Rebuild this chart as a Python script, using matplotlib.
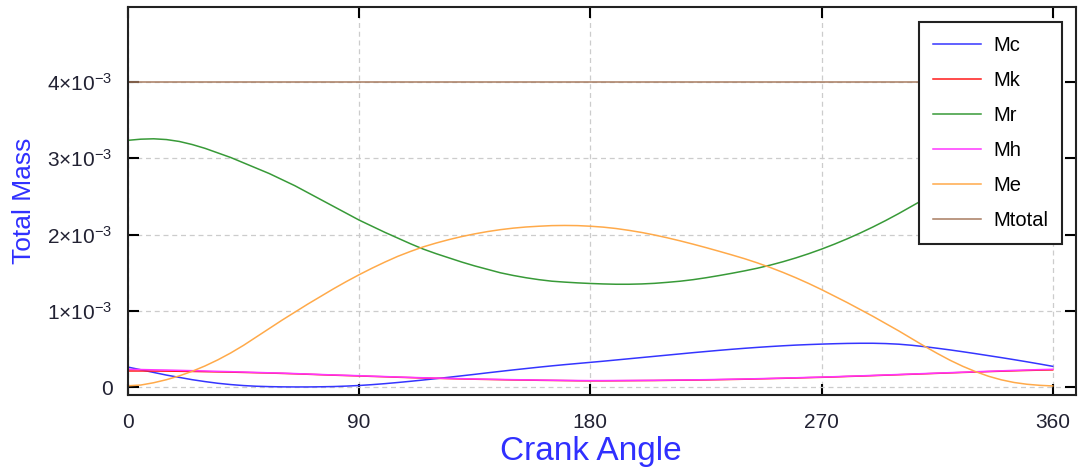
import numpy as np
import matplotlib
matplotlib.use("Agg")
from matplotlib import pyplot as plt
from matplotlib.ticker import FuncFormatter

plt.rcParams['font.family'] = ['Liberation Sans', 'DejaVu Sans']
plt.rcParams['mathtext.fontset'] = 'custom'
plt.rcParams['mathtext.rm'] = 'Liberation Sans'
plt.rcParams['mathtext.it'] = 'Liberation Sans:italic'

#crank angle, every 5 deg
angle = list(range(0, 361, 5))

# masses in 1e-3 units
Mc = [0.265, 0.23, 0.195, 0.16, 0.13, 0.10, 0.075, 0.053, 0.036, 0.023,
      0.014, 0.009, 0.006, 0.005, 0.005, 0.007, 0.01, 0.016, 0.024, 0.035,
      0.048, 0.063, 0.079, 0.096, 0.114, 0.132, 0.151, 0.17, 0.19, 0.209,
      0.228, 0.246, 0.264, 0.281, 0.297, 0.312, 0.327, 0.342, 0.358, 0.374,
      0.39, 0.406, 0.422, 0.438, 0.454, 0.469, 0.484, 0.498, 0.511, 0.523,
      0.534, 0.544, 0.553, 0.56, 0.566, 0.571, 0.575, 0.577, 0.577, 0.573,
      0.565, 0.551, 0.533, 0.512, 0.49, 0.466, 0.441, 0.415, 0.389, 0.362,
      0.334, 0.305, 0.275]
Mk = [0.214, 0.214, 0.213, 0.212, 0.210, 0.208, 0.205, 0.202, 0.199, 0.195,
      0.191, 0.187, 0.182, 0.177, 0.171, 0.165, 0.159, 0.154, 0.149, 0.143,
      0.138, 0.132, 0.127, 0.122, 0.118, 0.114, 0.110, 0.106, 0.103, 0.100,
      0.097, 0.095, 0.092, 0.090, 0.088, 0.086, 0.085, 0.085, 0.086, 0.087,
      0.088, 0.089, 0.091, 0.093, 0.095, 0.097, 0.100, 0.103, 0.106, 0.110,
      0.114, 0.118, 0.122, 0.127, 0.131, 0.136, 0.142, 0.147, 0.153, 0.159,
      0.165, 0.171, 0.177, 0.183, 0.189, 0.195, 0.200, 0.206, 0.211, 0.216,
      0.221, 0.225, 0.228]
Mr = [3.235, 3.25, 3.255, 3.245, 3.22, 3.18, 3.13, 3.07, 3.01, 2.94,
      2.87, 2.80, 2.72, 2.64, 2.55, 2.46, 2.37, 2.28, 2.19, 2.11,
      2.03, 1.955, 1.88, 1.81, 1.75, 1.695, 1.64, 1.59, 1.545, 1.50,
      1.465, 1.435, 1.41, 1.39, 1.378, 1.368, 1.36, 1.354, 1.35, 1.35,
      1.354, 1.362, 1.375, 1.39, 1.41, 1.435, 1.463, 1.493, 1.525, 1.56,
      1.60, 1.645, 1.695, 1.75, 1.81, 1.875, 1.945, 2.02, 2.10, 2.185,
      2.275, 2.37, 2.465, 2.56, 2.66, 2.755, 2.845, 2.93, 3.01, 3.08,
      3.14, 3.19, 3.235]
Mh = [0.236, 0.233, 0.229, 0.226, 0.222, 0.218, 0.214, 0.209, 0.205, 0.200,
      0.195, 0.190, 0.186, 0.180, 0.174, 0.168, 0.162, 0.157, 0.152, 0.146,
      0.141, 0.135, 0.130, 0.125, 0.121, 0.117, 0.113, 0.109, 0.106, 0.103,
      0.100, 0.098, 0.095, 0.093, 0.091, 0.089, 0.088, 0.088, 0.089, 0.090,
      0.091, 0.092, 0.094, 0.096, 0.098, 0.100, 0.103, 0.106, 0.109, 0.113,
      0.117, 0.121, 0.125, 0.130, 0.134, 0.139, 0.145, 0.150, 0.156, 0.162,
      0.168, 0.174, 0.180, 0.186, 0.192, 0.198, 0.204, 0.210, 0.216, 0.222,
      0.227, 0.232, 0.236]
Me = [0.02, 0.03, 0.06, 0.10, 0.15, 0.21, 0.28, 0.36, 0.45, 0.55,
      0.66, 0.77, 0.88, 0.985, 1.09, 1.19, 1.29, 1.385, 1.475, 1.56,
      1.64, 1.715, 1.78, 1.84, 1.89, 1.935, 1.975, 2.01, 2.04, 2.065,
      2.085, 2.10, 2.11, 2.118, 2.12, 2.118, 2.11, 2.098, 2.08, 2.056,
      2.028, 1.995, 1.958, 1.918, 1.875, 1.83, 1.783, 1.735, 1.685, 1.63,
      1.57, 1.505, 1.435, 1.36, 1.28, 1.195, 1.11, 1.02, 0.93, 0.835,
      0.74, 0.64, 0.54, 0.445, 0.355, 0.275, 0.205, 0.145, 0.098, 0.063,
      0.04, 0.026, 0.018]
Mtotal = [4.0] * len(angle)

series = [("Mc", Mc, "#3535ff"),
          ("Mk", Mk, "#ff1a1a"),
          ("Mr", Mr, "#389a38"),
          ("Mh", Mh, "#ff35ff"),
          ("Me", Me, "#ffaa4a"),
          ("Mtotal", Mtotal, "#a87c60")]

fig = plt.figure(figsize=(10.78, 4.73), dpi=100)
ax = fig.add_axes([0.1187, 0.165, 0.8793, 0.820])

for name, vals, col in series:
    ax.plot(angle, np.array(vals) * 1e-3, color=col, lw=1.1, label=name)

ax.set_xlim(0, 369)
ax.set_ylim(-0.1e-3, 4.98e-3)
ax.set_xticks([0, 90, 180, 270, 360])
ax.set_yticks([0, 1e-3, 2e-3, 3e-3, 4e-3])

def fmt(v, pos):
    n = int(round(v * 1e3))
    if n == 0:
        return "0"
    return "%d×10$^{\\mathregular{-3}}$" % n

ax.yaxis.set_major_formatter(FuncFormatter(fmt))
ax.tick_params(direction='in', length=8, width=1.5, top=True, right=True,
               labelsize=15, labelcolor='#222233', pad=11)
ax.tick_params(axis='x', pad=13)

ax.grid(True, color='#cccccc', ls=(0, (4, 3)), lw=0.9)
for s in ax.spines.values():
    s.set_linewidth(1.5)
    s.set_color('#222222')

ax.set_xlabel("Crank Angle", color='#3030ff', fontsize=24)
ax.xaxis.set_label_coords(180 / 369, -0.105)
ax.set_ylabel("Total Mass", color='#3030ff', fontsize=19, labelpad=8)

leg = ax.legend(loc='upper right', bbox_to_anchor=(0.985, 0.961), borderaxespad=0,
                fontsize=14.5, labelspacing=0.8, handlelength=2.4, handletextpad=0.6,
                fancybox=False, framealpha=1, edgecolor='#222222', borderpad=0.68)
leg.get_frame().set_linewidth(1.5)

fig.savefig("out.png", dpi=100)
